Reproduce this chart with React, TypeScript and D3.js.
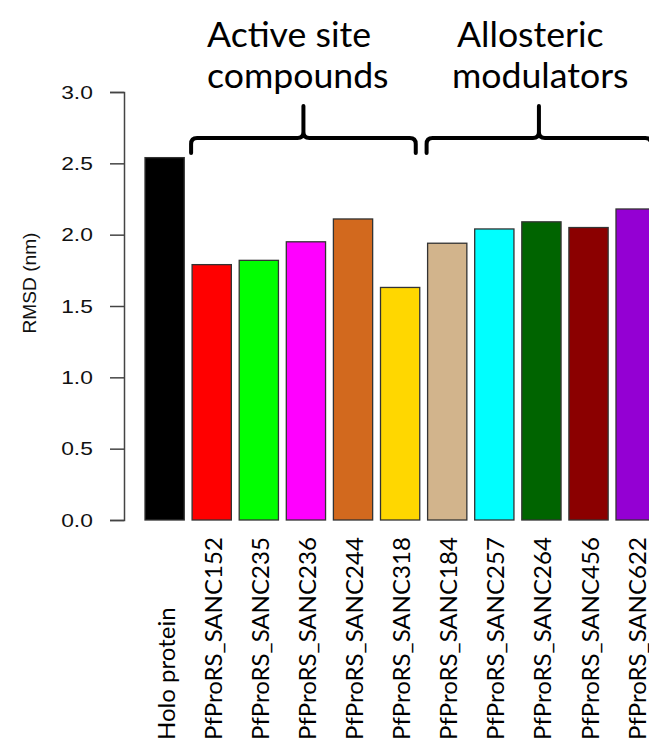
import * as d3 from "d3";
import { useEffect, useRef } from "react";

// data
const categories = [
  "Holo protein",
  "PfProRS_SANC152",
  "PfProRS_SANC235",
  "PfProRS_SANC236",
  "PfProRS_SANC244",
  "PfProRS_SANC318",
  "PfProRS_SANC184",
  "PfProRS_SANC257",
  "PfProRS_SANC264",
  "PfProRS_SANC456",
  "PfProRS_SANC622",
];
const rmsd = [2.54, 1.79, 1.82, 1.95, 2.11, 1.63, 1.94, 2.04, 2.09, 2.05, 2.18];
const barColors = [
  "#000000", "#ff0000", "#00ff00", "#ff00ff", "#d2691e", "#ffd700",
  "#d2b48c", "#00ffff", "#006400", "#8b0000", "#9400d3",
];
const yTicks = [0, 0.5, 1, 1.5, 2, 2.5, 3];
const groupFirst = ["PfProRS_SANC152", "PfProRS_SANC184"];
const groupLast = ["PfProRS_SANC318", "PfProRS_SANC622"];
const groupTitles = [["Active site", "compounds"], ["Allosteric", "modulators"]];

const W = 649;
const H = 744;

// scale a text's font so that its rendered length is `target` px
const fitFont = (sel: any, base: number, target: number) => {
  const node = sel.node() as SVGTextElement;
  const len = node.getComputedTextLength();
  return len > 0 ? (base * target) / len : base;
};

const App = () => {
  const ref = useRef<SVGSVGElement>(null);

  useEffect(() => {
    document.body.style.margin = "0";
    document.body.style.overflow = "hidden";
    const svg = d3.select(ref.current);
    svg.selectAll("*").remove();

    const x = d3.scaleBand<string>()
      .domain(categories)
      .range([137.15, 655.25])
      .paddingInner(1 / 6)
      .paddingOuter(1 / 12)
      .align(1);
    const y = d3.scaleLinear().domain([0, 3]).range([520, 92]);

    // bars
    svg.append("g")
      .selectAll("rect")
      .data(categories)
      .enter()
      .append("rect")
      .attr("x", d => x(d)!)
      .attr("y", (d, i) => y(rmsd[i]))
      .attr("width", x.bandwidth())
      .attr("height", (d, i) => y(0) - y(rmsd[i]))
      .attr("fill", (d, i) => barColors[i])
      .attr("stroke", "#333")
      .attr("stroke-width", 1.3);

    // y axis (the original plot is a bit stretched sideways, so the numbers are too)
    const yAxis = d3.axisLeft(y).tickValues(yTicks).tickSize(14).tickPadding(12)
      .tickFormat(d3.format(".1f"));
    const ga = svg.append("g").attr("transform", "translate(124,0)").call(yAxis);
    ga.select(".domain").attr("stroke", "#444").attr("stroke-width", 1.5);
    ga.selectAll(".tick line").attr("stroke", "#444").attr("stroke-width", 1.5);
    ga.selectAll(".tick text")
      .attr("transform", "scale(1.2,1)")
      .style("font-family", "'Liberation Sans', Arial, sans-serif")
      .style("font-size", "19px")
      .attr("fill", "#111");

    const yl = svg.append("text")
      .attr("transform", "translate(36,283) rotate(-90)")
      .attr("text-anchor", "middle")
      .style("font-family", "'Liberation Sans', Arial, sans-serif")
      .style("font-size", "19px")
      .attr("fill", "#111")
      .text("RMSD (nm)");
    yl.style("font-size", fitFont(yl, 19, 101) + "px");

    // x labels
    const xl = svg.append("g")
      .selectAll("text")
      .data(categories)
      .enter()
      .append("text")
      .attr("transform", d => `translate(${x(d)! + x.bandwidth() / 2 + 10},740) rotate(-90)`)
      .attr("text-anchor", "start")
      .style("font-family", "Lato, 'Open Sans', sans-serif")
      .style("font-size", "26px")
      .attr("fill", "#000")
      .text(d => d);
    const xfs = fitFont(xl.filter((d, i) => i === 1), 26, 203);
    xl.style("font-size", xfs + "px");

    // brackets
    groupFirst.forEach((f, gi) => {
      const x0 = x(f)! - 1;
      const x1 = x(groupLast[gi])! + x.bandwidth() - 4;
      const xm = (x0 + x1) / 2;
      const yb = 138, yd = 153, yt = 106, r = 6;
      const p = d3.path();
      p.moveTo(x0, yd);
      p.lineTo(x0, yb + r);
      p.quadraticCurveTo(x0, yb, x0 + r, yb);
      p.lineTo(xm - r, yb);
      p.quadraticCurveTo(xm, yb, xm, yb - r);
      p.lineTo(xm, yt);
      p.moveTo(xm, yb - r);
      p.quadraticCurveTo(xm, yb, xm + r, yb);
      p.lineTo(x1 - r, yb);
      p.quadraticCurveTo(x1, yb, x1, yb + r);
      p.lineTo(x1, yd);
      svg.append("path")
        .attr("d", p.toString())
        .attr("fill", "none")
        .attr("stroke", "#000")
        .attr("stroke-width", 4)
        .attr("stroke-linecap", "round")
        .attr("stroke-linejoin", "round");
    });

    // group titles
    const titleX = [[207, 207], [457, 452]];
    const titles: any[] = [];
    groupTitles.forEach((lines, gi) => {
      lines.forEach((t, li) => {
        titles.push(svg.append("text")
          .attr("x", titleX[gi][li])
          .attr("y", li === 0 ? 47 : 88)
          .style("font-family", "Lato, 'Open Sans', sans-serif")
          .style("font-size", "36px")
          .attr("fill", "#000")
          .text(t));
      });
    });
    const tfs = fitFont(titles[0], 36, 164);
    titles.forEach(t => t.style("font-size", tfs + "px"));
  }, []);

  return <svg ref={ref} width={W} height={H} style={{ display: "block", background: "#fff" }} />;
};

export default App;
